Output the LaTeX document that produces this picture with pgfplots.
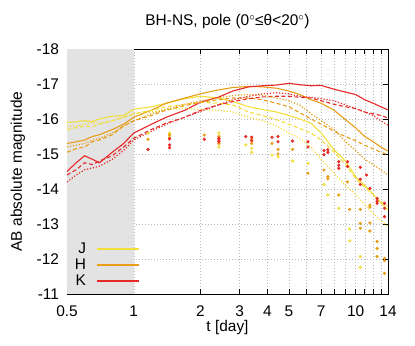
\documentclass[border=0pt]{standalone}
\usepackage{fontspec}
\setmainfont{Liberation Sans}
\usepackage{pgfplots}
\usepackage{pgfplotstable}
\pgfplotsset{compat=1.18}

\definecolor{cJ}{RGB}{243,222,60}
\definecolor{cH}{RGB}{232,158,25}
\definecolor{cK}{RGB}{230,40,38}

% model light curves: solid / dashed / dotted per band
\pgfplotstableread{
t     Js     Jd     Jo     Hs     Hd     Ho     Ks     Kd     Ko
0.5  -15.90 -15.70 -15.80 -15.30 -15.05 -15.20 -14.50 -14.40 -14.20
0.55 -15.92 -15.75 -15.80 -15.35 -15.15 -15.25 -14.75 -14.55 -14.40
0.6  -15.95 -15.80 -15.85 -15.40 -15.20 -15.30 -14.95 -14.75 -14.55
0.65 -15.93 -15.78 -15.90 -15.50 -15.35 -15.40 -14.85 -14.70 -14.60
0.7  -16.00 -15.85 -15.88 -15.55 -15.40 -15.45 -14.75 -14.80 -14.65
0.8  -16.08 -15.95 -15.95 -15.70 -15.55 -15.60 -15.05 -14.95 -14.85
0.9  -16.10 -16.05 -16.05 -15.85 -15.80 -15.80 -15.30 -15.20 -15.10
1.0  -16.28 -16.15 -16.15 -16.05 -15.95 -15.95 -15.60 -15.45 -15.40
1.2  -16.35 -16.25 -16.20 -16.25 -16.10 -16.15 -15.85 -15.70 -15.65
1.4  -16.45 -16.35 -16.28 -16.45 -16.25 -16.28 -16.05 -15.88 -15.85
1.7  -16.58 -16.42 -16.30 -16.60 -16.38 -16.42 -16.25 -16.05 -16.05
2.0  -16.65 -16.48 -16.27 -16.72 -16.48 -16.52 -16.48 -16.25 -16.22
2.4  -16.60 -16.45 -16.25 -16.83 -16.55 -16.60 -16.62 -16.40 -16.40
2.8  -16.50 -16.40 -16.20 -16.90 -16.60 -16.67 -16.80 -16.50 -16.55
3.3  -16.35 -16.20 -16.05 -16.93 -16.60 -16.70 -16.92 -16.58 -16.65
3.8  -16.27 -16.10 -15.95 -16.92 -16.55 -16.68 -16.95 -16.63 -16.72
4.4  -16.20 -15.98 -15.80 -16.88 -16.45 -16.60 -16.97 -16.65 -16.75
5.0  -16.10 -15.85 -15.60 -16.80 -16.35 -16.52 -17.02 -16.65 -16.72
5.6  -16.00 -15.73 -15.45 -16.70 -16.18 -16.40 -16.98 -16.62 -16.65
6.3  -15.88 -15.60 -15.20 -16.55 -16.00 -16.15 -16.95 -16.60 -16.62
7.0  -15.60 -15.40 -14.85 -16.45 -15.85 -15.95 -16.96 -16.52 -16.58
8.0  -15.12 -15.05 -14.45 -16.25 -15.65 -15.70 -16.85 -16.42 -16.52
9.0  -14.80 -14.70 -14.10 -15.98 -15.50 -15.35 -16.77 -16.35 -16.40
10   -14.35 -14.30 -13.85 -15.75 -15.38 -15.10 -16.70 -16.30 -16.30
11   -14.10 -14.05 -13.55 -15.50 -15.25 -14.85 -16.55 -16.20 -16.20
12   -13.85 -13.85 -13.30 -15.35 -15.15 -14.70 -16.45 -16.15 -16.10
13   -13.60 -13.65 -13.10 -15.20 -15.05 -14.55 -16.35 -16.10 -15.95
14   -13.40 -13.50 -12.92 -15.08 -14.98 -14.40 -16.26 -16.03 -15.82
}\curves

% observed points
\pgfplotstableread{
t m
1.16 -15.59
1.45 -15.60
1.45 -15.54
2.42 -15.60
2.42 -15.20
3.2 -15.26
3.4 -15.16
3.4 -15.05
4.2 -14.97
4.47 -14.92
5.2 -14.80
6.1 -14.73
7.2 -14.13
7.5 -13.83
8.4 -13.45
9.4 -12.86
9.4 -12.52
10.5 -12.07
10.5 -11.76
}\obsJ

\pgfplotstableread{
t m
1.16 -15.42
1.45 -15.47
1.45 -15.55
2.08 -15.54
2.42 -15.50
2.42 -15.30
3.4 -15.42
3.4 -15.30
4.2 -15.30
4.47 -15.13
4.47 -15.00
5.2 -15.13
6.1 -14.45
7.2 -14.54
7.5 -14.29
7.5 -14.35
8.4 -13.83
9.2 -14.20
9.4 -13.42
10.5 -13.42
10.5 -13.02
10.5 -12.88
11.6 -13.54
11.6 -13.48
11.6 -13.03
11.6 -12.80
12.5 -12.50
12.5 -12.30
12.5 -12.07
13.5 -12.02
13.5 -11.95
13.5 -11.59
}\obsH

\pgfplotstableread{
t m
1.16 -15.13
1.45 -15.43
1.45 -15.26
1.45 -15.18
2.08 -15.42
2.42 -15.45
2.42 -15.35
2.42 -15.40
3.2 -15.50
3.4 -15.48
3.4 -15.38
4.2 -15.48
4.47 -15.50
4.47 -15.35
5.2 -15.37
6.1 -15.35
6.1 -15.20
7.2 -15.10
7.2 -14.98
7.5 -15.05
7.5 -15.12
8.4 -14.78
8.4 -14.68
8.4 -14.59
9.2 -14.78
9.2 -14.64
10.5 -14.62
10.5 -14.28
10.5 -14.13
11.2 -14.40
11.6 -14.02
12.5 -13.73
12.5 -13.65
12.5 -13.59
13.5 -13.59
13.5 -13.45
13.5 -13.21
}\obsK

\newcommand{\lbl}{\fontsize{15.5}{17}\selectfont}

\begin{document}
\begin{tikzpicture}
\useasboundingbox (0,0) rectangle (415bp,346bp);
\begin{axis}[
  at={(67bp,52bp)}, anchor=south west,
  scale only axis, width=321bp, height=245bp,
  xmode=log, xmin=0.5, xmax=14,
  ymin=-18, ymax=-11, y dir=reverse,
  xtick={0.5,1,2,3,4,5,6,7,8,9,10,11,12,13,14},
  xticklabels={0.5,1,2,3,4,5,,7,,,10,,,,14},
  ytick={-18,-17,...,-11},
  minor xtick={},
  tick align=inside, xtick pos=both, ytick pos=both,
  major tick length=5bp,
  tick style={black, line width=0.6bp},
  axis line style={black, line width=0.8bp},
  grid=major,
  major grid style={gray!55, line width=0.5bp, dash pattern=on 1bp off 2bp},
  /pgf/number format/assume math mode=true,
  ticklabel style={font=\lbl},
  xticklabel style={yshift=-8bp},
  yticklabel style={xshift=-4.5bp},
  title={BH-NS, pole (0\textsuperscript{$\circ$}≤θ<20\textsuperscript{$\circ$})},
  every axis title/.style={at={(axis description cs:0.5,1)}, anchor=center, yshift=27bp, font=\lbl},
  xlabel={t [day]},
  every axis x label/.style={at={(axis description cs:0.5,0)}, anchor=center, yshift=-34bp, font=\lbl},
  ylabel={AB absolute magnitude},
  every axis y label/.style={at={(axis description cs:0,0.5)}, xshift=-49bp, rotate=90, anchor=center, font=\lbl},
  legend plot pos=right,
  legend cell align=right,
  legend image code/.code={\draw[#1, line width=2bp] (0bp,0bp) -- (42bp,0bp);},
  legend style={at={(axis description cs:0.01,0.012)}, anchor=south west,
    draw=none, fill=none, font=\lbl, column sep=8bp, row sep=1.1bp,
    nodes={inner sep=1.5bp}},
]
\addplot[fill=gray!22, draw=none, forget plot] coordinates {(0.5,-18) (1,-18) (1,-11) (0.5,-11)} -- cycle;

\addplot[color=cJ, line width=1.1bp] table[x=t, y=Js] {\curves};
\addlegendentry{J}
\addplot[color=cH, line width=1.1bp] table[x=t, y=Hs] {\curves};
\addlegendentry{H}
\addplot[color=cK, line width=1.1bp] table[x=t, y=Ks] {\curves};
\addlegendentry{K}

\addplot[color=cJ, line width=1.1bp, dash pattern=on 4bp off 2.5bp, forget plot] table[x=t, y=Jd] {\curves};
\addplot[color=cH, line width=1.1bp, dash pattern=on 4bp off 2.5bp, forget plot] table[x=t, y=Hd] {\curves};
\addplot[color=cK, line width=1.1bp, dash pattern=on 4bp off 2.5bp, forget plot] table[x=t, y=Kd] {\curves};

\addplot[color=cJ, line width=1.2bp, dash pattern=on 1.2bp off 1.8bp, forget plot] table[x=t, y=Jo] {\curves};
\addplot[color=cH, line width=1.2bp, dash pattern=on 1.2bp off 1.8bp, forget plot] table[x=t, y=Ho] {\curves};
\addplot[color=cK, line width=1.2bp, dash pattern=on 1.2bp off 1.8bp, forget plot] table[x=t, y=Ko] {\curves};

\addplot[only marks, mark=*, mark size=1.4bp, color=cJ, forget plot] table[x=t, y=m] {\obsJ};
\addplot[only marks, mark=*, mark size=1.4bp, color=cH, forget plot] table[x=t, y=m] {\obsH};
\addplot[only marks, mark=*, mark size=1.4bp, color=cK, forget plot] table[x=t, y=m] {\obsK};
\end{axis}
\end{tikzpicture}
\end{document}
